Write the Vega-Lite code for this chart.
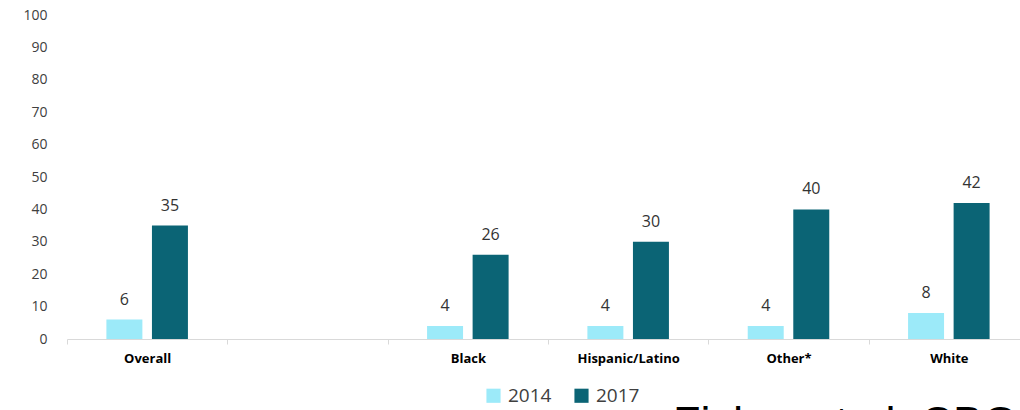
{
  "$schema": "https://vega.github.io/schema/vega-lite/v6.json",
  "width": 953,
  "height": 324,
  "autosize": {"type": "none"},
  "padding": {"left": 67, "top": 15, "right": 0, "bottom": 71},
  "background": "white",
  "title": {
    "text": "Fisher et al. CBOL",
    "orient": "bottom",
    "anchor": "start",
    "dx": 650,
    "offset": -4,
    "font": "Liberation Sans",
    "fontSize": 45,
    "fontWeight": "normal",
    "color": "#000000"
  },
  "data": {
    "values": [
      {"group": "Overall", "year": "2014", "value": 6},
      {"group": "Overall", "year": "2017", "value": 35},
      {"group": "Black", "year": "2014", "value": 4},
      {"group": "Black", "year": "2017", "value": 26},
      {"group": "Hispanic/Latino", "year": "2014", "value": 4},
      {"group": "Hispanic/Latino", "year": "2017", "value": 30},
      {"group": "Other*", "year": "2014", "value": 4},
      {"group": "Other*", "year": "2017", "value": 40},
      {"group": "White", "year": "2014", "value": 8},
      {"group": "White", "year": "2017", "value": 42}
    ]
  },
  "encoding": {
    "x": {
      "field": "group",
      "type": "nominal",
      "sort": null,
      "scale": {
        "domain": ["Overall", " ", "Black", "Hispanic/Latino", "Other*", "White"],
        "range": [0, 962],
        "paddingInner": 0,
        "paddingOuter": 0
      },
      "axis": {
        "title": null,
        "labelAngle": 0,
        "tickBand": "extent",
        "domainColor": "#d9d9d9",
        "tickColor": "#d9d9d9",
        "tickSize": 5,
        "labelFont": "Open Sans",
        "labelFontSize": 13,
        "labelFontWeight": "bold",
        "labelColor": "#000000",
        "labelPadding": 8
      }
    },
    "xOffset": {
      "field": "year",
      "type": "nominal",
      "scale": {"paddingInner": 0.21, "paddingOuter": 0.865}
    },
    "y": {
      "field": "value",
      "type": "quantitative",
      "scale": {"domain": [0, 100]},
      "axis": {
        "title": null,
        "values": [0, 10, 20, 30, 40, 50, 60, 70, 80, 90, 100],
        "grid": false,
        "domain": false,
        "ticks": false,
        "labelPadding": 20,
        "labelFont": "Open Sans",
        "labelFontSize": 14,
        "labelColor": "#404040"
      }
    }
  },
  "layer": [
    {
      "mark": {"type": "bar"},
      "encoding": {
        "color": {
          "field": "year",
          "type": "nominal",
          "scale": {"domain": ["2014", "2017"], "range": ["#9CEAF9", "#0B6475"]},
          "legend": {
            "title": null,
            "orient": "none",
            "direction": "horizontal",
            "legendX": 417,
            "legendY": 371,
            "symbolType": "square",
            "symbolSize": 200,
            "symbolStrokeWidth": 0,
            "labelFont": "Open Sans",
            "labelFontSize": 19,
            "labelColor": "#404040",
            "columnPadding": 20,
            "labelOffset": 5
          }
        }
      }
    },
    {
      "mark": {"type": "text", "baseline": "bottom", "dy": -12, "font": "Open Sans", "fontSize": 16, "color": "#333333"},
      "encoding": {"text": {"field": "value", "type": "quantitative"}}
    }
  ],
  "config": {"view": {"stroke": null}}
}
